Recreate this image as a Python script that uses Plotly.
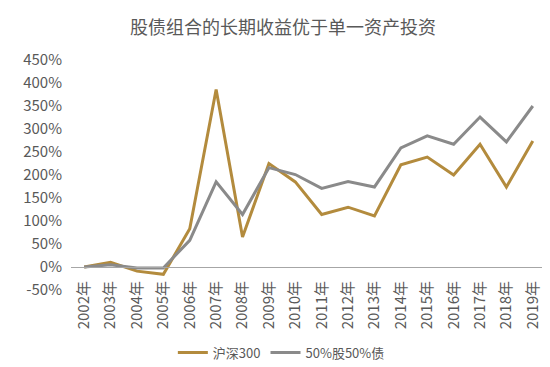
import plotly.graph_objects as go

years = [f"{y}年" for y in range(2002, 2020)]
hs300 = [0, 10, -9, -16, 83, 386, 65, 225, 185, 114, 130, 111, 222, 239, 200, 267, 174, 274]
mix = [0, 5, -2, -2, 58, 185, 114, 216, 201, 171, 186, 174, 259, 285, 267, 326, 272, 350]
yticks = list(range(-50, 451, 50))
ytext = [f"{v}%" for v in yticks]

font_cjk = "Noto Sans CJK SC, Noto Sans, Arial"
fig = go.Figure()
fig.add_trace(go.Scatter(x=years, y=hs300, mode="lines", name="沪深300",
                         line=dict(color="#B38B3D", width=3)))
fig.add_trace(go.Scatter(x=years, y=mix, mode="lines", name="50%股50%债",
                         line=dict(color="#8A8A8A", width=3)))

fig.update_layout(
    width=550, height=367,
    margin=dict(l=63, r=12, t=52, b=85, autoexpand=False),
    paper_bgcolor="white", plot_bgcolor="white",
    font=dict(family=font_cjk, color="#595959"),
    title=dict(text="股债组合的长期收益优于单一资产投资", x=0.5, xanchor="center",
               xref="container", y=0.945, yref="container", yanchor="middle",
               font=dict(size=18, color="#595959")),
    showlegend=True,
    legend=dict(orientation="h", x=0.497, xanchor="center", xref="container",
                y=0.02, yref="container", yanchor="bottom",
                font=dict(size=13, color="#595959"),
                itemwidth=30, tracegroupgap=0),
    xaxis=dict(type="category", range=[-0.5, 17.5], tickangle=-90,
               showgrid=False, showline=True, linecolor="#A6A6A6", linewidth=1,
               anchor="free", position=0.1, ticks="", automargin=False,
               ticklabelstandoff=7,
               tickfont=dict(size=15, color="#595959")),
    yaxis=dict(range=[-50, 450], tickvals=yticks, ticktext=ytext,
               showgrid=False, zeroline=False, showline=False,
               ticklabelstandoff=8, automargin=False,
               tickfont=dict(size=15, color="#595959")),
)
fig.write_html("out.html")
